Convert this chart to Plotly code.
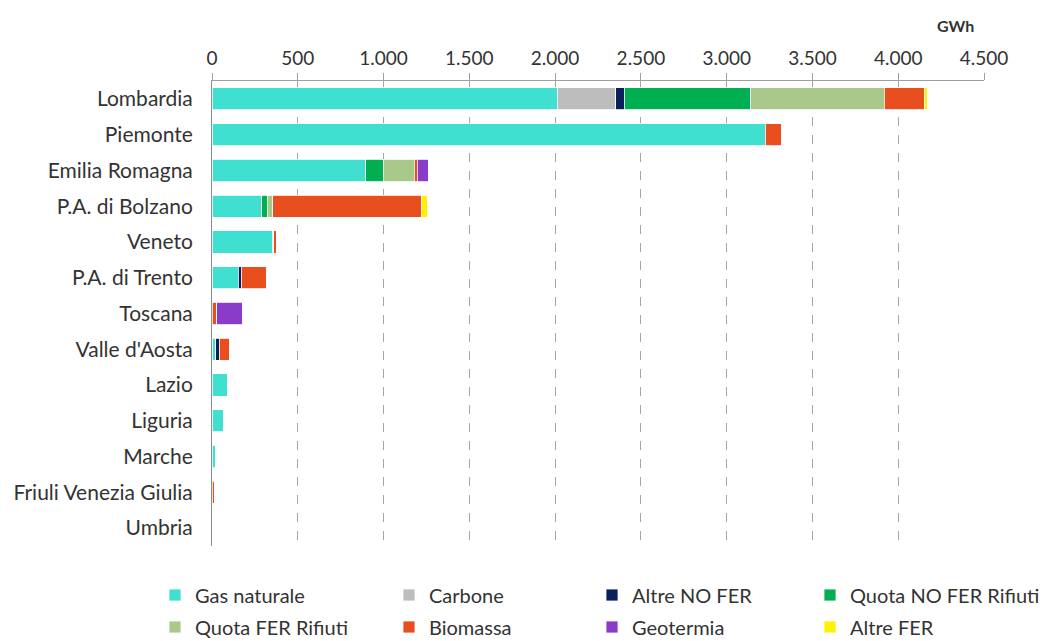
import plotly.graph_objects as go

regioni = ["Lombardia", "Piemonte", "Emilia Romagna", "P.A. di Bolzano", "Veneto",
           "P.A. di Trento", "Toscana", "Valle d'Aosta", "Lazio", "Liguria",
           "Marche", "Friuli Venezia Giulia", "Umbria"]

gas_naturale = [2013, 3224, 896, 290, 352, 152, 0, 22, 89, 66, 18, 0, 0]
carbone = [340, 0, 0, 0, 0, 0, 0, 0, 0, 0, 0, 0, 0]
altre_no_fer = [49, 0, 0, 0, 0, 18, 0, 20, 0, 0, 0, 0, 0]
quota_no_fer_rifiuti = [739, 0, 101, 35, 0, 0, 0, 0, 0, 0, 0, 0, 0]
quota_fer_rifiuti = [777, 0, 181, 30, 8, 0, 0, 0, 0, 0, 0, 0, 0]
biomassa = [233, 97, 19, 865, 16, 149, 28, 60, 0, 0, 0, 17, 0]
geotermia = [0, 0, 64, 0, 0, 0, 150, 0, 0, 0, 0, 0, 0]
altre_fer = [19, 0, 0, 35, 0, 0, 0, 0, 0, 0, 0, 0, 0]

serie = [
    ("Gas naturale", gas_naturale, "#40E0D0"),
    ("Carbone", carbone, "#BDBDBD"),
    ("Altre NO FER", altre_no_fer, "#0B1F5C"),
    ("Quota NO FER Rifiuti", quota_no_fer_rifiuti, "#00B050"),
    ("Quota FER Rifiuti", quota_fer_rifiuti, "#A9C98A"),
    ("Biomassa", biomassa, "#E84E1E"),
    ("Geotermia", geotermia, "#8A3BC9"),
    ("Altre FER", altre_fer, "#FFF200"),
]

tick_vals = [0, 500, 1000, 1500, 2000, 2500, 3000, 3500, 4000, 4500]
tick_text = ["0", "500", "1.000", "1.500", "2.000", "2.500", "3.000", "3.500", "4.000", "4.500"]

FONT = "Lato, 'Open Sans', sans-serif"
TEXT = "#333333"
W, H = 1044, 641

# legend grid: 4 columns x 2 rows, each entry is its own legend box
col_text_x = [199, 433, 636, 854]
row_y = [595, 627]

fig = go.Figure()
legend_layouts = {}
for i, (nome, valori, colore) in enumerate(serie):
    key = "legend" if i == 0 else f"legend{i + 1}"
    fig.add_trace(go.Bar(
        y=regioni, x=valori, name=nome, orientation="h",
        marker=dict(color=colore, line=dict(color="white", width=0.8)),
        legend=key,
    ))
    col, row = i % 4, i // 4
    legend_layouts[key] = dict(
        xref="container", yref="container",
        x=(col_text_x[col] - 44) / W, xanchor="left",
        y=1 - row_y[row] / H, yanchor="middle",
        bgcolor="rgba(0,0,0,0)", borderwidth=0,
        font=dict(size=20, family=FONT, color=TEXT),
        itemwidth=30,
    )

fig.update_layout(
    barmode="stack",
    bargap=0.38,
    width=W, height=H,
    margin=dict(l=212, r=60, t=81, b=95, autoexpand=False),
    plot_bgcolor="white", paper_bgcolor="white",
    font=dict(family=FONT, color=TEXT, size=15),
    showlegend=True,
    xaxis=dict(
        side="top", range=[0, 4500],
        tickvals=tick_vals, ticktext=tick_text,
        showgrid=True, gridcolor="#A6A6A6", griddash="dash", gridwidth=1,
        zeroline=False, showline=True, linecolor="#A0A0A0", linewidth=1,
        ticks="outside", ticklen=7, tickcolor="#A0A0A0",
        tickfont=dict(size=19, family=FONT, color=TEXT),
    ),
    yaxis=dict(
        autorange="reversed",
        showline=True, linecolor="#8C8C8C", linewidth=1,
        ticks="outside", ticklen=14, tickcolor="rgba(0,0,0,0)",
        tickfont=dict(size=21, family=FONT, color=TEXT),
        showgrid=False,
    ),
    annotations=[dict(
        text="<b>GWh</b>", xref="paper", yref="paper",
        x=(955 - 212) / 772, y=1 + (81 - 25) / 465,
        showarrow=False, font=dict(size=16, family=FONT, color=TEXT),
        xanchor="center", yanchor="middle",
    )],
    **legend_layouts,
)

fig.write_html("out.html")
